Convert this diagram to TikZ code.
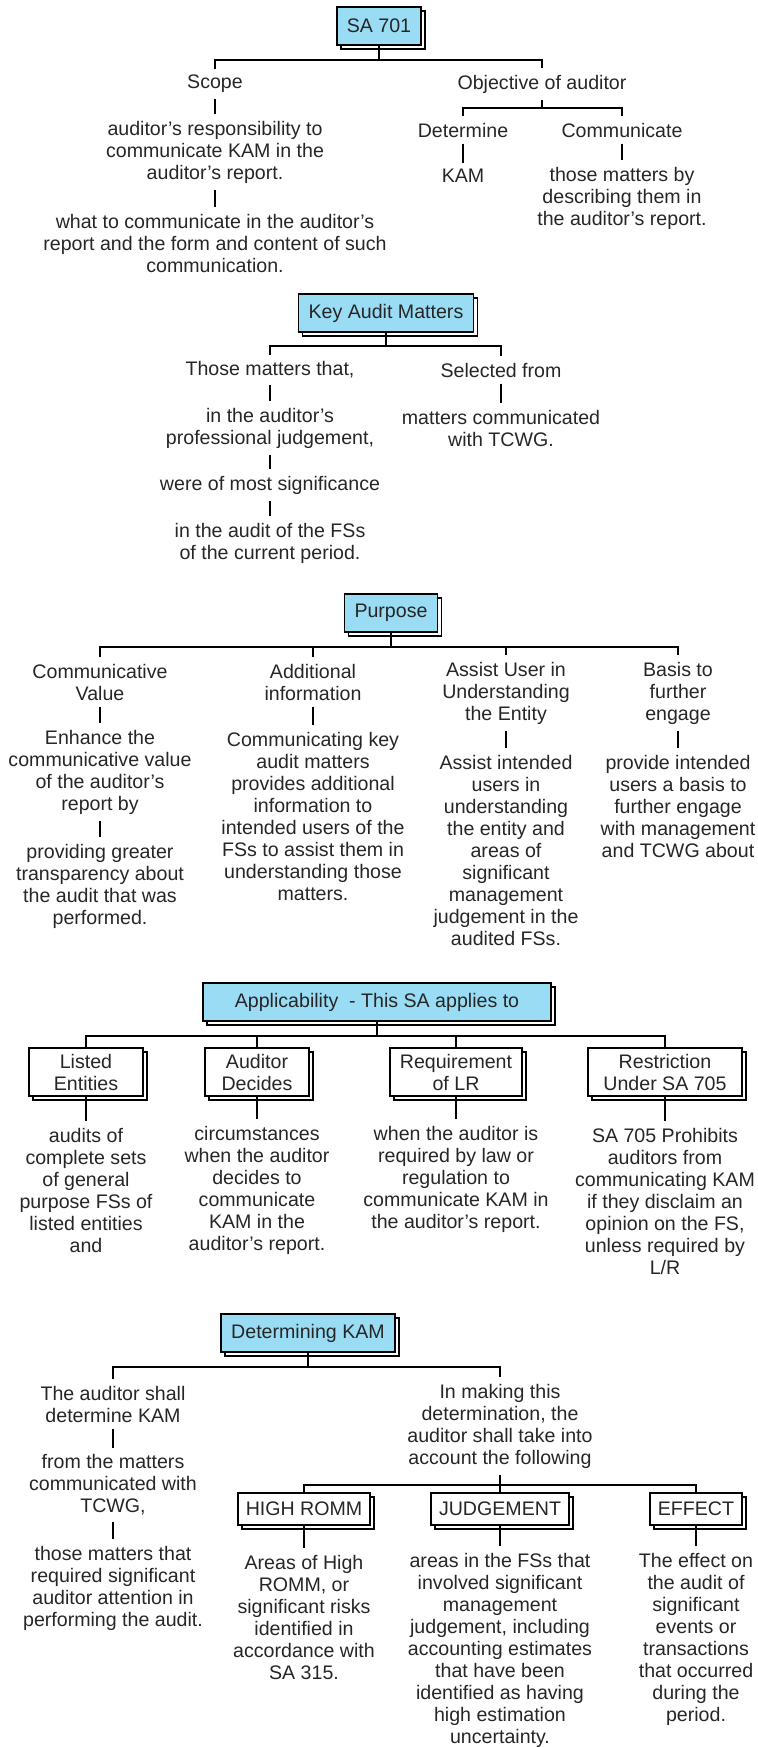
\documentclass[tikz,border=0pt]{standalone}
\usepackage{fontspec}
\setmainfont{Liberation Sans}
\usepackage{tikz}
\definecolor{titleblue}{HTML}{9ADCF4}

\begin{document}
\begin{tikzpicture}[x=0.5pt,y=-0.5pt,
  every node/.style={font=\fontsize{9.8}{11}\selectfont, text=black!85},
  txt/.style={align=center, inner sep=3pt},
  titlebox/.style={draw, line width=0.8pt, fill=titleblue, inner xsep=5pt, minimum height=19pt,
    preaction={draw, fill=white, line width=0.8pt, transform canvas={shift={(2pt,-2pt)}}}},
  itembox/.style={titlebox, fill=white, align=center, inner xsep=4pt, inner ysep=3pt, minimum height=16pt},
  link/.style={line width=0.8pt}]
\useasboundingbox (0,0) rectangle (758,1747);

% SA 701
\node[titlebox] (sa) at (379,26) {SA 701};
\coordinate (sabar) at (379,60);
\node[txt] (scope) at (215,84) {Scope};
\node[txt] (resp) at (215,152) {auditor's responsibility to\\communicate KAM in the\\auditor's report.};
\node[txt] (what) at (215,243) {what to communicate in the auditor's\\report and the form and content of such\\communication.};
\node[txt] (objective) at (542,84) {Objective of auditor};
\coordinate (objbar) at (542,108);
\node[txt] (determine) at (463,130) {Determine};
\node[txt] (communicate) at (622,130) {Communicate};
\node[txt] (kam) at (463,176) {KAM};
\node[txt] (describe) at (622,198) {those matters by\\describing them in\\the auditor's report.};
\draw[link] (sa) -- (sabar);
\draw[link] (scope) |- (sabar) -| (objective);
\draw[link] (scope) -- (resp);
\draw[link] (resp) -- (what);
\draw[link] (objective) -- (objbar);
\draw[link] (determine) |- (objbar) -| (communicate);
\draw[link] (determine) -- (kam);
\draw[link] (communicate) -- (describe);

% Key Audit Matters
\node[titlebox] (kamt) at (386,313) {Key Audit Matters};
\coordinate (kambar) at (386,346);
\node[txt] (thosethat) at (270,370) {Those matters that,};
\node[txt] (judg) at (270,428) {in the auditor's\\professional judgement,};
\node[txt] (signif) at (270,485) {were of most significance};
\node[txt] (current) at (270,543) {in the audit of the FSs\\of the current period.};
\node[txt] (selected) at (501,370) {Selected from};
\node[txt] (tcwg) at (501,428) {matters communicated\\with TCWG.};
\draw[link] (kamt) -- (kambar);
\draw[link] (thosethat) |- (kambar) -| (selected);
\draw[link] (thosethat) -- (judg);
\draw[link] (judg) -- (signif);
\draw[link] (signif) -- (current);
\draw[link] (selected) -- (tcwg);

% Purpose
\node[titlebox] (purpose) at (391,613) {Purpose};
\coordinate (purbar) at (391,647);
\node[txt] (comval) at (100,682) {Communicative\\Value};
\node[txt] (enhance) at (100,772) {Enhance the\\communicative value\\of the auditor's\\report by};
\node[txt] (transp) at (100,886) {providing greater\\transparency about\\the audit that was\\performed.};
\node[txt] (addinfo) at (313,682) {Additional\\information};
\node[txt] (addtext) at (313,816) {Communicating key\\audit matters\\provides additional\\information to\\intended users of the\\FSs to assist them in\\understanding those\\matters.};
\node[txt] (assist) at (506,693) {Assist User in\\Understanding\\the Entity};
\node[txt] (assisttext) at (506,850) {Assist intended\\users in\\understanding\\the entity and\\areas of\\significant\\management\\judgement in the\\audited FSs.};
\node[txt] (basis) at (678,693) {Basis to\\further\\engage};
\node[txt] (basistext) at (678,806) {provide intended\\users a basis to\\further engage\\with management\\and TCWG about};
\draw[link] (purpose) -- (purbar);
\draw[link] (comval) |- (purbar) -| (basis);
\draw[link] (addinfo) -- (addinfo |- purbar);
\draw[link] (assist) -- (assist |- purbar);
\draw[link] (comval) -- (enhance);
\draw[link] (enhance) -- (transp);
\draw[link] (addinfo) -- (addtext);
\draw[link] (assist) -- (assisttext);
\draw[link] (basis) -- (basistext);

% Applicability
\node[titlebox, minimum width=174pt] (appl) at (377,1002) {Applicability\ \ - This SA applies to};
\coordinate (applbar) at (377,1036);
\node[itembox, minimum width=57pt] (listed) at (86,1072) {Listed\\Entities};
\node[itembox, minimum width=52pt] (decides) at (257,1072) {Auditor\\Decides};
\node[itembox, minimum width=66pt] (lr) at (456,1072) {Requirement\\of LR};
\node[itembox, minimum width=77pt] (restrict) at (665,1072) {Restriction\\Under SA 705};
\node[txt] (listedtext) at (86,1190) {audits of\\complete sets\\of general\\purpose FSs of\\listed entities\\and};
\node[txt] (decidestext) at (257,1190) {circumstances\\when the auditor\\decides to\\communicate\\KAM in the\\auditor's report.};
\node[txt] (lrtext) at (456,1179) {when the auditor is\\required by law or\\regulation to\\communicate KAM in\\the auditor's report.};
\node[txt] (restricttext) at (665,1201) {SA 705 Prohibits\\auditors from\\communicating KAM\\if they disclaim an\\opinion on the FS,\\unless required by\\L/R};
\draw[link] (appl) -- (applbar);
\draw[link] (listed) |- (applbar) -| (restrict);
\draw[link] (decides) -- (decides |- applbar);
\draw[link] (lr) -- (lr |- applbar);
\draw[link] (listed) -- (listedtext);
\draw[link] (decides) -- (decidestext);
\draw[link] (lr) -- (lrtext);
\draw[link] (restrict) -- (restricttext);

% Determining KAM
\node[titlebox] (detkam) at (308,1333) {Determining KAM};
\coordinate (detbar) at (308,1367);
\node[txt] (shall) at (113,1404) {The auditor shall\\determine KAM};
\node[txt] (frommat) at (113,1485) {from the matters\\communicated with\\TCWG,};
\node[txt] (attention) at (113,1588) {those matters that\\required significant\\auditor attention in\\performing the audit.};
\node[txt] (making) at (500,1426) {In making this\\determination, the\\auditor shall take into\\account the following};
\coordinate (makebar) at (500,1485);
\node[itembox] (romm) at (304,1509) {HIGH ROMM};
\node[itembox] (judgement) at (500,1509) {JUDGEMENT};
\node[itembox] (effect) at (696,1509) {EFFECT};
\node[txt] (rommtext) at (304,1617) {Areas of High\\ROMM, or\\significant risks\\identified in\\accordance with\\SA 315.};
\node[txt] (judgtext) at (500,1650) {areas in the FSs that\\involved significant\\management\\judgement, including\\accounting estimates\\that have been\\identified as having\\high estimation\\uncertainty.};
\node[txt] (effecttext) at (696,1639) {The effect on\\the audit of\\significant\\events or\\transactions\\that occurred\\during the\\period.};
\draw[link] (detkam) -- (detbar);
\draw[link] (shall) |- (detbar) -| (making);
\draw[link] (shall) -- (frommat);
\draw[link] (frommat) -- (attention);
\draw[link] (making) -- (makebar);
\draw[link] (romm) |- (makebar) -| (effect);
\draw[link] (judgement) -- (makebar);
\draw[link] (romm) -- (rommtext);
\draw[link] (judgement) -- (judgtext);
\draw[link] (effect) -- (effecttext);
\end{tikzpicture}
\end{document}
